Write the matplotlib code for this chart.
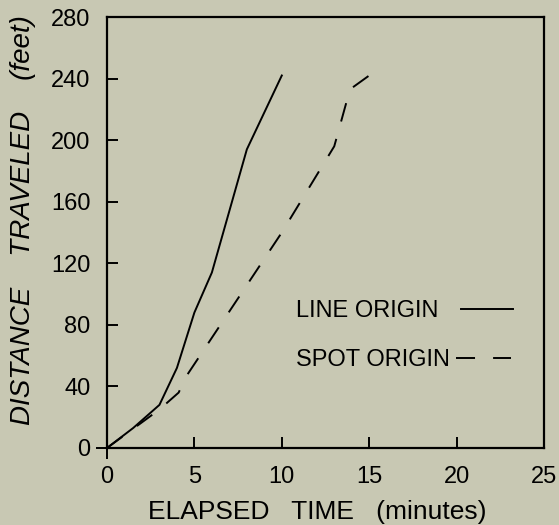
import matplotlib
matplotlib.use('Agg')
import matplotlib.pyplot as plt
import matplotlib.lines as mlines

# values
line_t = [0, 1.5, 3, 4, 5, 6, 8, 10]
line_d = [0, 13, 28, 52, 88, 114, 194, 242]
spot_t = [0, 3, 4.1, 4.5, 10, 13, 13.9, 15]
spot_d = [0, 25, 36, 46, 140, 196, 233, 242]

x_ticks = [0, 5, 10, 15, 20, 25]
y_ticks = [0, 40, 80, 120, 160, 200, 240, 280]

bg = '#c8c8b3'
plt.rcParams['font.family'] = ['Liberation Sans', 'DejaVu Sans']
plt.rcParams['lines.scale_dashes'] = False

fig = plt.figure(figsize=(5.59, 5.25), dpi=100, facecolor=bg)
ax = fig.add_axes([0.1914, 0.1467, 0.7818, 0.8209], facecolor=bg)

solid, = ax.plot(line_t, line_d, color='black', lw=1.4)
dashed, = ax.plot(spot_t, spot_d, color='black', lw=1.4, dashes=(13.7, 13))

ax.set_xlim(0, 25)
ax.set_ylim(0, 280)
ax.set_xticks(x_ticks)
ax.set_yticks(y_ticks)
ax.tick_params(direction='in', length=8, width=1.4, labelsize=17, colors='black')
ax.tick_params(axis='y', pad=12)
ax.tick_params(axis='x', pad=13)
for s in ax.spines.values():
    s.set_linewidth(1.6)

# the zero ticks stick out past the frame
ax.xaxis.get_major_ticks()[0].tick1line.set_marker(mlines.TICKDOWN)
ax.yaxis.get_major_ticks()[0].tick1line.set_marker(mlines.TICKLEFT)

ax.set_xlabel('ELAPSED   TIME   (minutes)', fontsize=19)
ax.xaxis.set_label_coords(0.48, -0.12)
ax.set_ylabel('DISTANCE    TRAVELED    (feet)', fontsize=20, style='italic')
ax.yaxis.set_label_coords(-0.163, 0.53)

# two one-entry legends so both labels start at the same x
leg1 = ax.legend([solid], ['LINE ORIGIN'], loc='center left',
                 bbox_to_anchor=(0.433, 0.318), frameon=False, markerfirst=False,
                 fontsize=17, handlelength=2.2, handletextpad=0.95,
                 borderpad=0, borderaxespad=0)
ax.add_artist(leg1)
ax.legend([dashed], ['SPOT ORIGIN'], loc='center left',
          bbox_to_anchor=(0.433, 0.204), frameon=False, markerfirst=False,
          fontsize=17, handlelength=2.35, handletextpad=0.25,
          borderpad=0, borderaxespad=0)

fig.savefig('out.png', dpi=100, facecolor=bg)
